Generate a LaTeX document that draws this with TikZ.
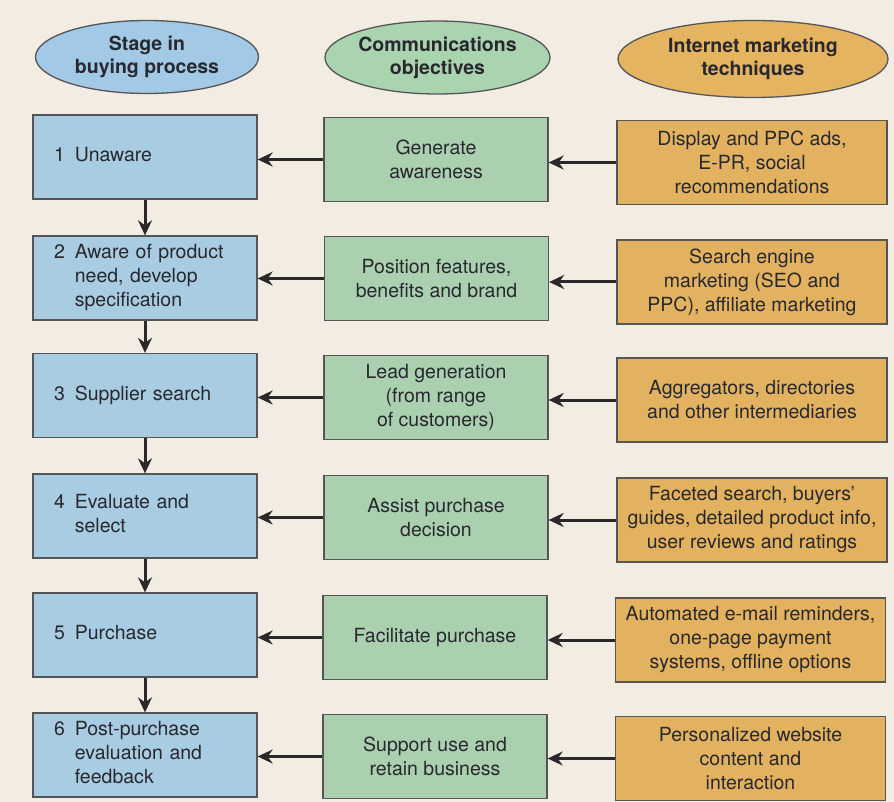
\documentclass[tikz,border=0pt]{standalone}
\usepackage{fontspec}
\setmainfont{TeX Gyre Heros}
\usetikzlibrary{arrows.meta,shapes.geometric}
\definecolor{bg}{RGB}{243,236,226}
\definecolor{edge}{RGB}{85,85,88}
\definecolor{txt}{RGB}{40,40,46}
\definecolor{arrc}{RGB}{42,40,42}
\definecolor{bluef}{RGB}{168,204,226}
\definecolor{greenf}{RGB}{170,208,176}
\definecolor{orangef}{RGB}{226,178,96}
\definecolor{blueh}{RGB}{162,202,230}
\definecolor{greenh}{RGB}{170,212,176}
\definecolor{orangeh}{RGB}{228,180,96}
\newcommand{\stg}[2]{\begin{tabular}{@{}l@{\hspace{10pt}}l@{}}#1&#2\end{tabular}}
\begin{document}
\begin{tikzpicture}[x=1pt,y=-1pt,
  box/.style={draw=edge, line width=1.3pt, minimum height=84pt, inner sep=0pt,
    font=\fontsize{19.5}{24}\selectfont, text=txt, align=center},
  stagebox/.style={box, fill=bluef, minimum width=224pt, text width=182pt, align=left},
  objbox/.style={box, fill=greenf, minimum width=224pt},
  techbox/.style={box, fill=orangef, minimum width=270pt},
  head/.style={ellipse, draw=edge, line width=1.3pt, inner sep=0pt,
    font=\bfseries\fontsize{19.5}{23}\selectfont, align=center, text=txt},
  arr/.style={line width=3pt, draw=arrc, -{Stealth[length=15pt,width=14pt,inset=5pt]}}]
\useasboundingbox (0,0) rectangle (894,802);
\fill[bg] (0,0) rectangle (894,802);

% headers
\node[head, fill=blueh, minimum width=223pt, minimum height=73pt] (h1) at (147,57) {Stage in\\buying process};
\node[head, fill=greenh, minimum width=225pt, minimum height=73pt] (h2) at (437.5,57.5) {Communications\\objectives};
\node[head, fill=orangeh, minimum width=270pt, minimum height=77pt] (h3) at (753,59) {Internet marketing\\techniques};

% stages
\node[stagebox] (b1) at (145,157) {\stg{1}{Unaware}};
\node[stagebox] (b2) at (145,278) {\stg{2}{Aware of product\\&need, develop\\&specification}};
\node[stagebox] (b3) at (145,395.5) {\stg{3}{Supplier search}};
\node[stagebox] (b4) at (145,516) {\stg{4}{Evaluate and\\&select}};
\node[stagebox] (b5) at (145,635) {\stg{5}{Purchase}};
\node[stagebox] (b6) at (145,755) {\stg{6}{Post-purchase\\&evaluation and\\&feedback}};

% objectives
\node[objbox] (g1) at (436,159.5) {Generate\\awareness};
\node[objbox] (g2) at (436.5,278.5) {Position features,\\benefits and brand};
\node[objbox] (g3) at (436,397.5) {Lead generation\\(from range\\of customers)};
\node[objbox] (g4) at (436,517.5) {Assist purchase\\decision};
\node[objbox] (g5) at (435,637.5) {Facilitate purchase};
\node[objbox] (g6) at (435,756.5) {Support use and\\retain business};

% techniques
\node[techbox] (o1) at (752,162.5) {Display and PPC ads,\\E-PR, social\\recommendations};
\node[techbox] (o2) at (752,282) {Search engine\\marketing (SEO and\\PPC), affiliate marketing};
\node[techbox] (o3) at (752,400) {Aggregators, directories\\and other intermediaries};
\node[techbox] (o4) at (752,520) {Faceted search, buyers'\\guides, detailed product info,\\user reviews and ratings};
\node[techbox] (o5) at (750.5,640) {Automated e-mail reminders,\\one-page payment\\systems, offline options};
\node[techbox] (o6) at (750.5,758.5) {Personalized website\\content and\\interaction};

% arrows
\foreach \i in {1,...,6}{
  \draw[arr] (o\i.west) -- (g\i.east |- o\i.west);
  \draw[arr] (g\i.west) -- (b\i.east |- g\i.west);
}
\foreach \i/\j in {1/2,2/3,3/4,4/5,5/6}{
  \draw[arr] (b\i.south) -- (b\j.north);
}
\end{tikzpicture}
\end{document}
